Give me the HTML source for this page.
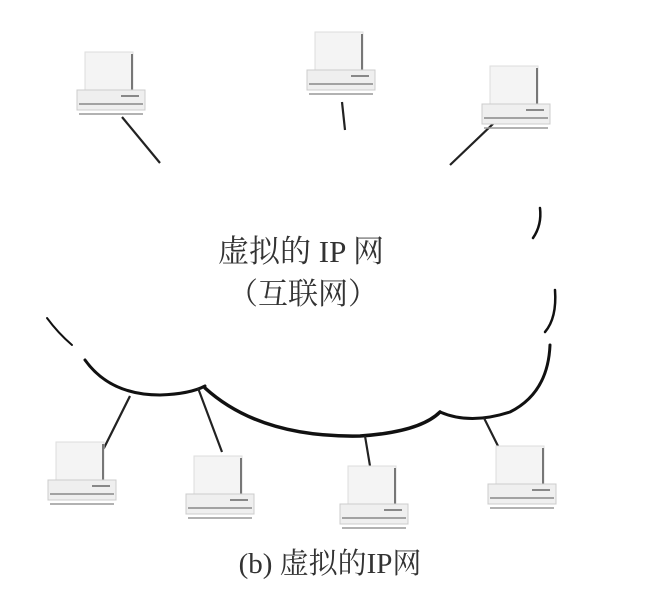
<!DOCTYPE html>
<html><head><meta charset="utf-8"><style>
html,body{margin:0;padding:0;background:#fff}
svg{display:block}
text{font-family:"Liberation Serif","Noto Serif CJK SC",serif;fill:#333}
</style></head><body>
<svg width="650" height="602" viewBox="0 0 650 602">
<defs>
<g id="pc">
<rect x="8" y="0" width="48" height="38" fill="#f4f4f4" stroke="#ddd"/>
<line x1="55" y1="2" x2="55" y2="38" stroke="#777" stroke-width="2"/>
<rect x="0" y="38" width="68" height="20" fill="#efefef" stroke="#ccc"/>
<line x1="2" y1="52" x2="66" y2="52" stroke="#888" stroke-width="1.5"/>
<line x1="44" y1="44" x2="62" y2="44" stroke="#666" stroke-width="1.5"/>
<line x1="2" y1="62" x2="66" y2="62" stroke="#999" stroke-width="1.5"/>
</g>
</defs>
<g fill="none" stroke="#111" stroke-linecap="round">
<path d="M47,318 Q58,333 72,345" stroke-width="2"/>
<path d="M85,360 Q110,395 160,395 Q190,394 205,386" stroke-width="3"/>
<path d="M205,388 Q260,438 360,436 Q420,432 440,412" stroke-width="3.5"/>
<path d="M440,412 Q470,425 510,412 Q548,393 550,345" stroke-width="3"/>
<path d="M555,290 Q557,318 545,332" stroke-width="2.5"/>
<path d="M540,208 Q542,225 533,238" stroke-width="2.5"/>
</g>
<g stroke="#222" stroke-width="2.2">
<line x1="122" y1="117" x2="160" y2="163"/>
<line x1="342" y1="102" x2="345" y2="130"/>
<line x1="495" y1="122" x2="450" y2="165"/>
<line x1="130" y1="396" x2="102" y2="452"/>
<line x1="198" y1="388" x2="222" y2="452"/>
<line x1="365" y1="436" x2="370" y2="466"/>
<line x1="484" y1="418" x2="500" y2="450"/>
</g>
<use href="#pc" x="77" y="52"/>
<use href="#pc" x="307" y="32"/>
<use href="#pc" x="482" y="66"/>
<use href="#pc" x="48" y="442"/>
<use href="#pc" x="186" y="456"/>
<use href="#pc" x="340" y="466"/>
<use href="#pc" x="488" y="446"/>
<text x="301" y="262" font-size="31" text-anchor="middle">虚拟的 IP 网</text>
<text x="303" y="304" font-size="30" text-anchor="middle">（互联网）</text>
<text x="330" y="573" font-size="29" text-anchor="middle">(b) 虚拟的IP网</text>
</svg>
</body></html>
